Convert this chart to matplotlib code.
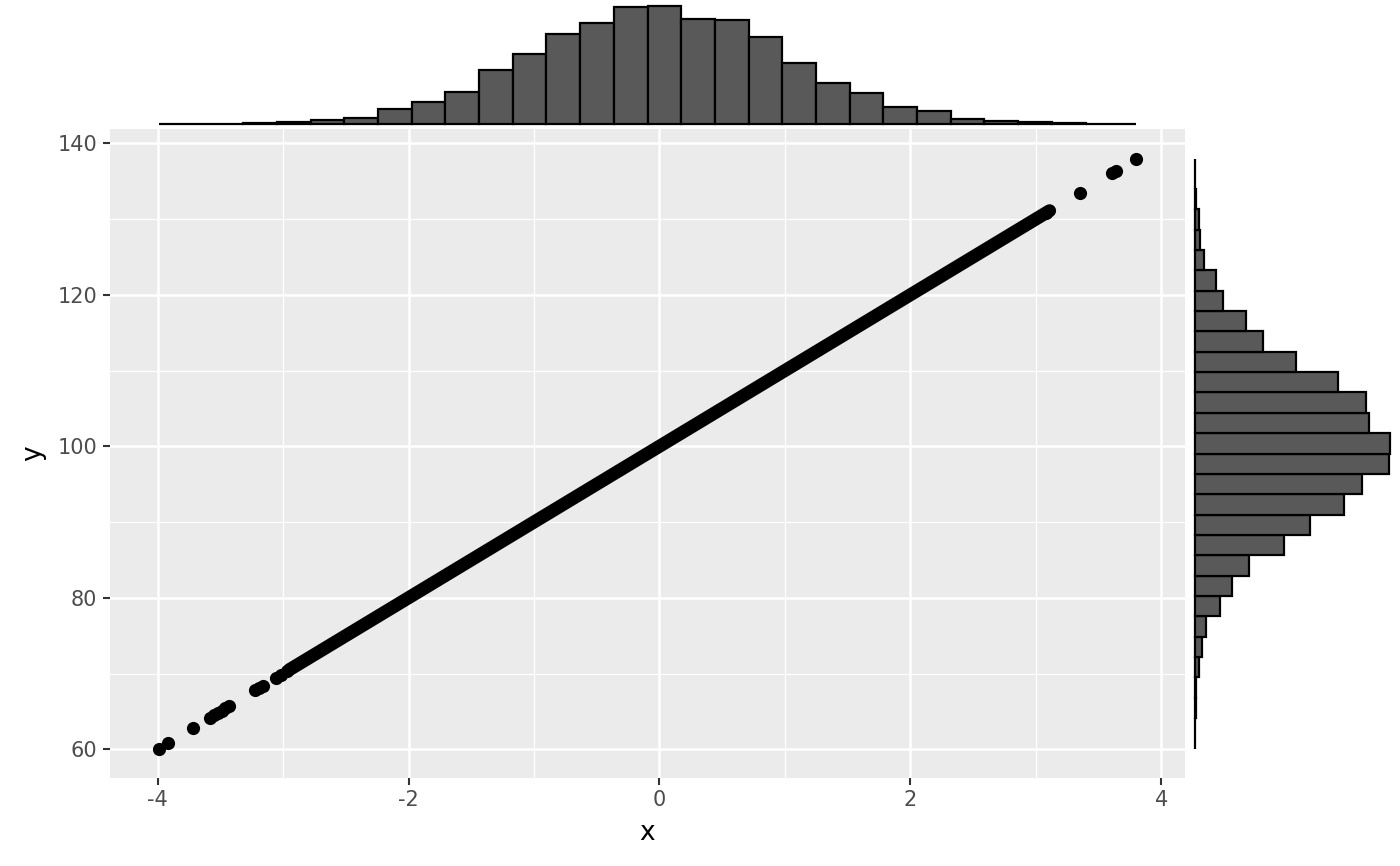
import matplotlib.pyplot as plt
import numpy as np

plt.rcParams['axes.unicode_minus'] = False

# scattered points in the tails
tail_x = [-3.99, -3.92, -3.72, -3.585, -3.55, -3.52, -3.49, -3.46, -3.43,
          -3.22, -3.19, -3.16, -3.06, -3.02, -2.97,
          3.08, 3.35, 3.61, 3.64, 3.80]
tail_y = [60.1, 60.8, 62.8, 64.15, 64.5, 64.8, 65.1, 65.4, 65.7,
          67.8, 68.1, 68.4, 69.4, 69.8, 70.3,
          130.8, 133.5, 136.1, 136.4, 138.0]
# the dense run of points, shown as one thick band
dense_x = [-2.95, 3.11]
dense_y = [70.5, 131.1]

# marginal histogram counts (30 bins, same counts for x and y)
counts = [2, 3, 5, 9, 22, 38, 60, 137, 203, 297, 490, 638, 825, 924, 1072,
          1078, 962, 946, 792, 561, 374, 280, 154, 115, 50, 28, 22, 8, 4, 2]

x_ticks = [-4, -2, 0, 2, 4]
y_ticks = [60, 80, 100, 120, 140]

W, H = 1400, 866
fig = plt.figure(figsize=(14, 8.66), dpi=100)


def rect(l, t, r, b):
    return [l / W, 1 - b / H, (r - l) / W, (b - t) / H]


ax = fig.add_axes(rect(110, 129, 1185, 778))
axt = fig.add_axes(rect(110, 0, 1185, 130))
axr = fig.add_axes(rect(1185, 129, 1400, 778))

xmin, xmax = min(tail_x), max(tail_x)
ymin, ymax = min(tail_y), max(tail_y)
xpad = 0.05 * (xmax - xmin)
ypad = 0.05 * (ymax - ymin)


def bins(lo, hi, n):
    w = (hi - lo) / (n - 1)
    centers = lo + w * np.arange(n)
    left = np.clip(centers - w / 2, lo, hi)
    right = np.clip(centers + w / 2, lo, hi)
    return left, right - left


# main panel
ax.set_facecolor('#EBEBEB')
for s in ax.spines.values():
    s.set_visible(False)
ax.set_xlim(xmin - xpad, xmax + xpad)
ax.set_ylim(ymin - ypad, ymax + ypad)
ax.set_xticks(x_ticks)
ax.set_yticks(y_ticks)
ax.set_xticks([-3, -1, 1, 3], minor=True)
ax.set_yticks([70, 90, 110, 130], minor=True)
ax.grid(which='major', color='white', linewidth=1.8)
ax.grid(which='minor', color='white', linewidth=0.9)
ax.set_axisbelow(True)
ax.tick_params(which='major', length=5, width=1.5, color='#333333',
               labelsize=15, labelcolor='#4D4D4D', pad=4)
ax.tick_params(which='minor', length=0)
ax.set_xlabel('x', fontsize=19, labelpad=7)
ax.set_ylabel('y', fontsize=19, labelpad=8)

ax.plot(dense_x, dense_y, color='black', linewidth=9.4,
        solid_capstyle='round', zorder=3)
ax.scatter(tail_x, tail_y, s=90, color='black', linewidths=0, zorder=3)

# top marginal histogram
left, width = bins(xmin, xmax, len(counts))
axt.bar(left, counts, width=width, align='edge', color='#595959',
        edgecolor='black', linewidth=1.6)
M = max(counts)
axt.set_xlim(ax.get_xlim())
axt.set_ylim(-0.05 * M, 1.05 * M)
axt.axis('off')

# right marginal histogram
bottom, height = bins(ymin, ymax, len(counts))
axr.barh(bottom, counts, height=height, align='edge', color='#595959',
         edgecolor='black', linewidth=1.6)
axr.set_ylim(ax.get_ylim())
axr.set_xlim(-0.05 * M, 1.05 * M)
axr.axis('off')

fig.savefig('out.png', dpi=100)
